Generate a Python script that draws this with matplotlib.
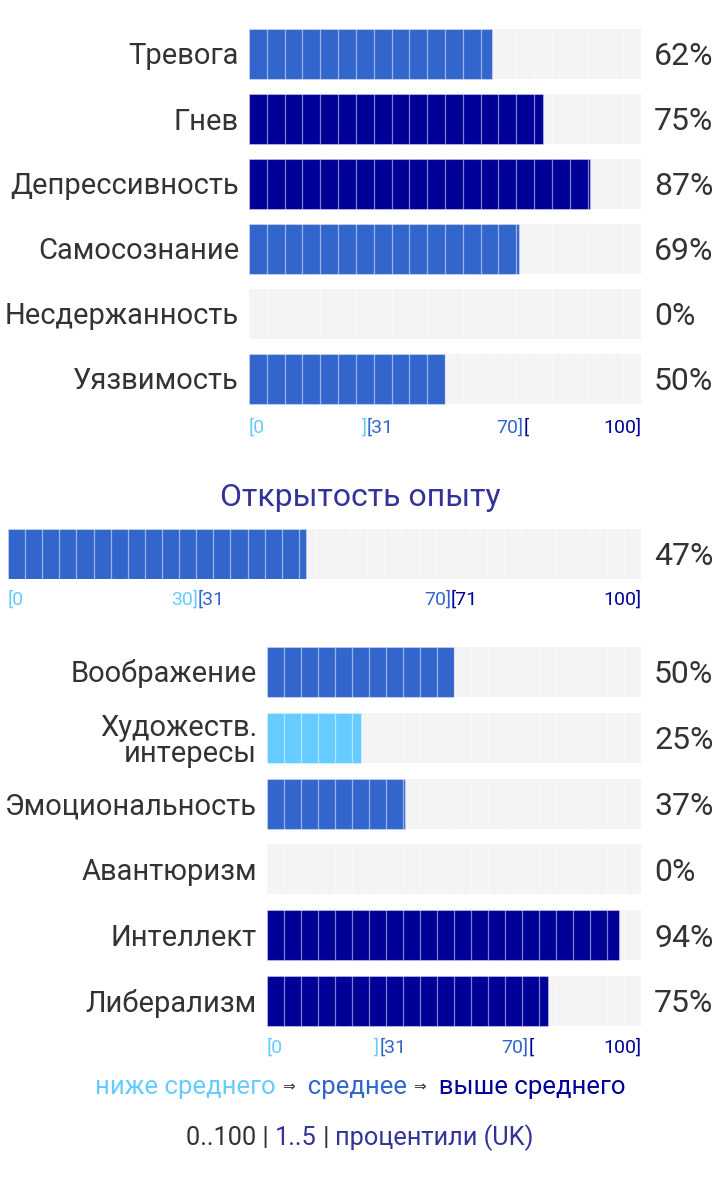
import matplotlib
matplotlib.use("Agg")
import matplotlib.pyplot as plt

plt.rcParams['font.family'] = ['Roboto', 'DejaVu Sans']

# Невротизм (фасеты)
top_labels = ['Тревога', 'Гнев', 'Депрессивность', 'Самосознание', 'Несдержанность', 'Уязвимость']
top_values = [62, 75, 87, 69, 0, 50]

# Открытость опыту
open_title = 'Открытость опыту'
open_value = 47

# фасеты открытости
bot_labels = ['Воображение', 'Художеств.\nинтересы', 'Эмоциональность', 'Авантюризм', 'Интеллект', 'Либерализм']
bot_values = [50, 25, 37, 0, 94, 75]

LIGHT = '#66CCFF'
MID = '#3366CC'
NAVY = '#000099'
BG = '#F4F4F4'
TXT = '#333333'
TITLE = '#333399'

LAB_FS = 21
PCT_FS = 23
SCALE_FS = 14

W, H = 720, 1194
fig = plt.figure(figsize=(W / 100, H / 100), dpi=100)


def col(v):
    if v <= 30:
        return LIGHT
    if v <= 70:
        return MID
    return NAVY


def make_ax(x0, x1, y0, y1):
    ax = fig.add_axes([x0 / W, 1 - y1 / H, (x1 - x0) / W, (y1 - y0) / H])
    ax.set_xlim(0, 100)
    ax.axis('off')
    return ax


def pct(ax, y, v):
    # baseline так, чтобы цифры были по центру полосы
    ax.annotate(f'{v}%', xy=(100, y), xytext=(13, -11.3), textcoords='offset pixels',
                ha='left', va='baseline', fontsize=PCT_FS, color=TXT)


def draw_rows(ax, values, h, ncells):
    n = len(values)
    ax.set_ylim(n - 0.5, -0.5)
    ys = list(range(n))
    ax.barh(ys, [100] * n, height=h, color=BG, left=0)
    ax.barh(ys, values, height=h, color=[col(v) for v in values],
            edgecolor=(1, 1, 1, 0.35), linewidth=0.8)
    for y in ys:
        for k in range(1, ncells):
            ax.plot([k * 100 / ncells] * 2, [y - h / 2, y + h / 2],
                    color='white', alpha=0.5, lw=0.9, solid_capstyle='butt')
    for y, v in zip(ys, values):
        pct(ax, y, v)


def row_labels(ax, labels):
    for y, lab in enumerate(labels):
        if '\n' in lab:
            ax.annotate(lab, xy=(0, y), xytext=(-10, -3), textcoords='offset pixels',
                        ha='right', va='center', fontsize=LAB_FS, color=TXT, linespacing=0.92)
        else:
            ax.annotate(lab, xy=(0, y), xytext=(-10, -10.5), textcoords='offset pixels',
                        ha='right', va='baseline', fontsize=LAB_FS, color=TXT)


def scale(ax, ypx, parts):
    # ypx: offset below the axes bottom in pixels
    for x, s, c, ha in parts:
        ax.annotate(s, xy=(x, 0), xycoords=('data', 'axes fraction'),
                    xytext=(0, -ypx), textcoords='offset pixels',
                    ha=ha, va='center', fontsize=SCALE_FS, color=c)


std_scale = [(0, '[0', LIGHT, 'left'), (30, ']', LIGHT, 'right'), (30, '[31', MID, 'left'),
             (70, '70]', MID, 'right'), (70, '[', NAVY, 'left'), (100, '100]', NAVY, 'right')]
open_scale = [(0, '[0', LIGHT, 'left'), (30, '30]', LIGHT, 'right'), (30, '[31', MID, 'left'),
              (70, '70]', MID, 'right'), (70, '[71', NAVY, 'left'), (100, '100]', NAVY, 'right')]

# верхний блок
ax1 = make_ax(249, 641, 21.5, 411.5)
draw_rows(ax1, top_values, 50 / 65, 22)
row_labels(ax1, top_labels)
scale(ax1, 16, std_scale)

# открытость
fig.text(360 / W, 1 - 497 / H, open_title, ha='center', va='center', fontsize=23, color=TITLE)
ax2 = make_ax(8, 641, 529, 579)
ax2.set_ylim(0.5, -0.5)
ax2.barh([0], [100], height=1, color=BG)
ax2.barh([0], [open_value], height=1, color=col(open_value),
         edgecolor=(1, 1, 1, 0.35), linewidth=0.8)
for k in range(1, 37):
    ax2.plot([k * 100 / 37] * 2, [-0.5, 0.5], color='white', alpha=0.5, lw=0.9)
pct(ax2, 0, open_value)
scale(ax2, 21, open_scale)

# нижний блок
ax3 = make_ax(267, 641, 639, 1034)
draw_rows(ax3, bot_values, 50 / 65.8, 22)
row_labels(ax3, bot_labels)
scale(ax3, 14, std_scale)

# строки легенды из цветных кусков
renderer = fig.canvas.get_renderer()


def colored_line(ypx, pieces, size):
    texts = []
    for s, c, fs in pieces:
        t = fig.text(0, 1 - ypx / H, s, color=c, fontsize=fs or size, ha='left', va='center')
        texts.append(t)
    widths = [t.get_window_extent(renderer).width for t in texts]
    total = sum(widths)
    x = (W - total) / 2
    for t, w in zip(texts, widths):
        t.set_x(x / W)
        x += w


colored_line(1087, [('ниже среднего ', LIGHT, None), ('⇒', TXT, 11), ('  среднее ', MID, None),
                    ('⇒', TXT, 11), ('  выше среднего', NAVY, None)], 18.5)
colored_line(1138, [('0..100 | ', TXT, None), ('1..5', TITLE, None), (' | ', TXT, None),
                    ('процентили (UK)', TITLE, None)], 18.3)

fig.savefig('out.png', dpi=100, facecolor='white')
